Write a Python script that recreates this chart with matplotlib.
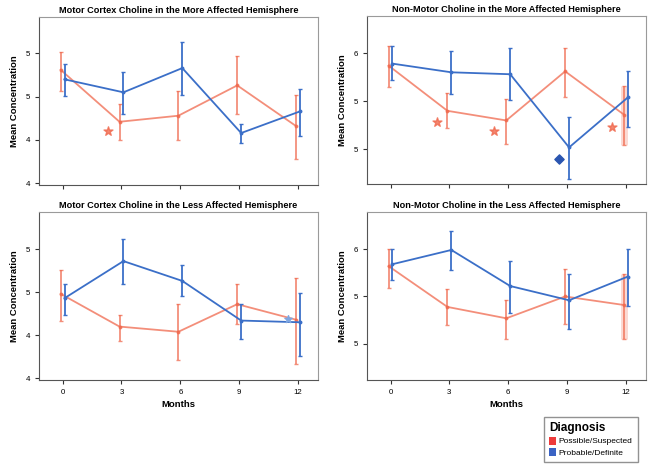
import numpy as np
import matplotlib
matplotlib.use("Agg")
import matplotlib.pyplot as plt
from matplotlib.patches import Patch

plt.rcParams['font.family'] = ['Liberation Sans', 'DejaVu Sans']

#Months of follow-up
months = np.array([0, 3, 6, 9, 12])

#Panel titles
titles = ["Motor Cortex Choline in the More Affected Hemisphere",
          "Non-Motor Choline in the More Affected Hemisphere",
          "Motor Cortex Choline in the Less Affected Hemisphere",
          "Non-Motor Choline in the Less Affected Hemisphere"]

#Possible/Suspected group (mean, upper, lower)
red_mean = [[5.31, 4.71, 4.78, 5.13, 4.66],
            [5.87, 5.40, 5.30, 5.81, 5.36],
            [4.98, 4.60, 4.54, 4.86, 4.68],
            [5.82, 5.39, 5.27, 5.50, 5.41]]
red_hi = [[5.51, 4.91, 5.07, 5.47, 5.02],
          [6.07, 5.58, 5.52, 6.05, 5.66],
          [5.26, 4.74, 4.86, 5.09, 5.16],
          [6.00, 5.58, 5.46, 5.79, 5.74]]
red_lo = [[5.07, 4.50, 4.50, 4.80, 4.28],
          [5.65, 5.22, 5.06, 5.54, 5.04],
          [4.67, 4.43, 4.21, 4.63, 4.17],
          [5.59, 5.20, 5.05, 5.21, 5.05]]

#Probable/Definite group (mean, upper, lower)
blue_mean = [[5.20, 5.05, 5.33, 4.58, 4.83],
             [5.89, 5.80, 5.78, 5.02, 5.54],
             [4.93, 5.36, 5.13, 4.67, 4.65],
             [5.84, 5.99, 5.61, 5.46, 5.71]]
blue_hi = [[5.38, 5.29, 5.63, 4.69, 5.09],
           [6.07, 6.02, 6.05, 5.34, 5.81],
           [5.09, 5.62, 5.32, 4.86, 4.99],
           [6.00, 6.19, 5.87, 5.74, 6.00]]
blue_lo = [[5.01, 4.80, 5.02, 4.46, 4.55],
           [5.72, 5.57, 5.51, 4.69, 5.23],
           [4.73, 5.10, 4.96, 4.46, 4.26],
           [5.67, 5.78, 5.33, 5.16, 5.40]]

#Outlier / significance markers (panel, month, value)
red_marks = [(0, 2.3, 4.60), (1, 2.35, 5.28), (1, 5.25, 5.19), (1, 11.3, 5.23)]
blue_marks = [(1, 8.6, 4.90), (2, 11.5, 4.69)]

#Panels where the last red bar is drawn as a wide faint band
wide_last = [1, 3]

#Y ticks as printed in the figure
yticks = [[4.0, 4.5, 5.0, 5.5], [5.0, 5.5, 6.0], [4.0, 4.5, 5.0, 5.5], [5.0, 5.5, 6.0]]
yticklabels = [["4", "4", "5", "5"], ["5", "5", "6"], ["4", "4", "5", "5"], ["5", "5", "6"]]
ylims = [(3.98, 5.92), (4.64, 6.385), (3.98, 5.93), (4.62, 6.39)]

red = "#f0694e"
blue = "#3b6fc8"

fig = plt.figure(figsize=(6.51, 4.73), dpi=100)
lefts = [0.060, 0.5637, 0.060, 0.5637]
bottoms = [0.6089, 0.6110, 0.1966, 0.1966]
axes = []
for i in range(4):
    ax = fig.add_axes([lefts[i], bottoms[i], 0.428, 0.3552])
    axes.append(ax)

for i, ax in enumerate(axes):
    rm = np.array(red_mean[i])
    bm = np.array(blue_mean[i])
    ax.errorbar(months - 0.1, rm,
                yerr=[rm - np.array(red_lo[i]), np.array(red_hi[i]) - rm],
                color=red, alpha=0.75, lw=1.3, elinewidth=1.3, capsize=1.5,
                marker='o', ms=1.8, zorder=2)
    if i in wide_last:
        ax.errorbar(months[-1:] - 0.1, rm[-1:],
                    yerr=[rm[-1:] - red_lo[i][-1], red_hi[i][-1] - rm[-1:]],
                    fmt='none', ecolor=red, alpha=0.25, elinewidth=5, zorder=1)
    ax.errorbar(months + 0.1, bm,
                yerr=[bm - np.array(blue_lo[i]), np.array(blue_hi[i]) - bm],
                color=blue, lw=1.3, elinewidth=1.3, capsize=1.5,
                marker='o', ms=1.8, zorder=3)
    for p, mx, my in red_marks:
        if p == i:
            ax.scatter(mx, my, marker='*', s=45, color=red, alpha=0.8, zorder=4)
    for p, mx, my in blue_marks:
        if p == i:
            if p == 1:
                ax.scatter(mx, my, marker='D', s=22, color="#2a55b0", zorder=4)
            else:
                ax.scatter(mx, my, marker='*', s=30, color="#7fa6e0", zorder=4)

    ax.set_xlim(-1.2, 13.0)
    ax.set_ylim(*ylims[i])
    ax.set_xticks(months)
    ax.set_yticks(yticks[i])
    ax.set_yticklabels(yticklabels[i])
    if i < 2:
        ax.set_xticklabels([])
    else:
        ax.set_xticklabels([str(m) for m in months])
        ax.set_xlabel("Months", fontsize=6.8, fontweight='bold', labelpad=3)
    ax.set_ylabel("Mean Concentration", fontsize=6.8, fontweight='bold', labelpad=5)
    ax.set_title(titles[i], fontsize=6.6, fontweight='bold', pad=3)
    ax.tick_params(labelsize=5.7, length=3, width=0.8, color="#333333")
    for s in ax.spines.values():
        s.set_color("#9a9a9a")
        s.set_linewidth(0.8)
    ax.spines['left'].set_color("#555555")
    ax.spines['bottom'].set_color("#555555")

handles = [Patch(facecolor="#ee3b3b", label="Possible/Suspected"),
           Patch(facecolor="#3a63c4", label="Probable/Definite")]
leg = fig.legend(handles=handles, title="Diagnosis", loc='upper left',
                 bbox_to_anchor=(0.829, 0.127), fontsize=6, fancybox=False,
                 edgecolor="#777777", handlelength=0.9, handleheight=1.1,
                 handletextpad=0.3, borderpad=0.6, labelspacing=0.3,
                 alignment='left')
leg.get_title().set_fontsize(8.5)
leg.get_title().set_fontweight('bold')

fig.savefig("out.png", dpi=100)
